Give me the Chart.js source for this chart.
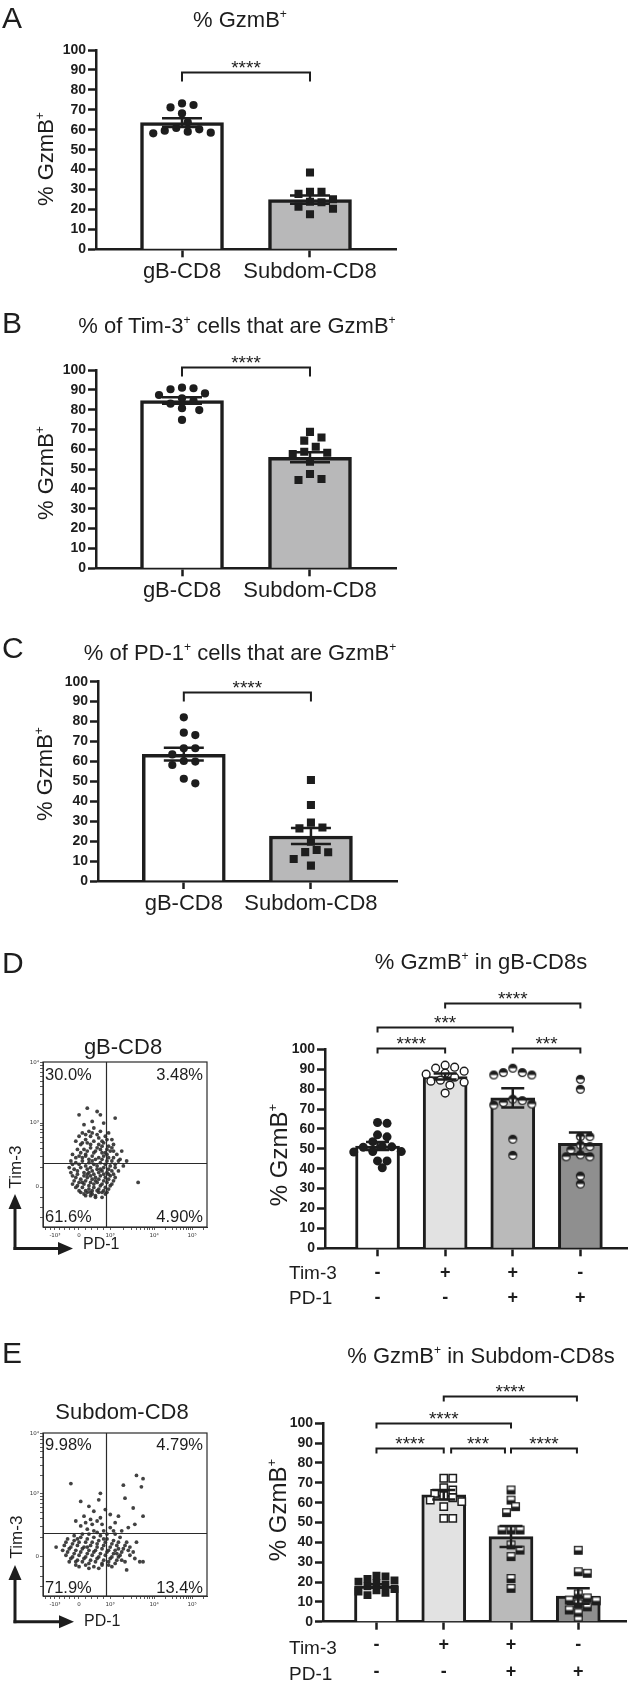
<!DOCTYPE html>
<html>
<head>
<meta charset="utf-8">
<script src="https://cdn.jsdelivr.net/npm/chart.js@4.4.1/dist/chart.umd.min.js"></script>
<style>
  html, body { margin: 0; padding: 0; background: #fff; }
  body { position: relative; width: 633px; height: 1688px; overflow: hidden;
         font-family: "Liberation Sans", Arial, Helvetica, sans-serif; color: #1d1d1d; }
  canvas { position: absolute; }
  .t { position: absolute; white-space: nowrap; line-height: 1; }
  .c { transform: translateX(-50%); }
  .rot { position: absolute; white-space: nowrap; line-height: 1; transform: translate(-50%, -50%) rotate(-90deg); }
  .sp { font-size: 0.55em; position: relative; top: -0.75em; }
  .L { font-size: 30px; left: 2px; }
  .T { font-size: 22px; }
  .Q { font-size: 16.5px; }
</style>
</head>
<body>
<canvas id="cA" width="420" height="300" style="left:0;top:0"></canvas>
<canvas id="cB" width="420" height="310" style="left:0;top:300px"></canvas>
<canvas id="cC" width="420" height="300" style="left:0;top:620px"></canvas>
<canvas id="cD" width="383" height="350" style="left:250px;top:970px"></canvas>
<canvas id="cE" width="383" height="318" style="left:250px;top:1370px"></canvas>
<canvas id="fD" width="240" height="230" style="left:0;top:1030px"></canvas>
<canvas id="fE" width="240" height="230" style="left:0;top:1400px"></canvas>

<svg width="633" height="1688" style="position:absolute;left:0;top:0;pointer-events:none">
  <g stroke="#1d1d1d" stroke-width="3" fill="none">
    <path d="M15 1250 V1206"/><path d="M13.5 1248.5 H60"/>
    <path d="M15 1623.2 V1577"/><path d="M13.5 1621.7 H61"/>
  </g>
  <g fill="#1d1d1d">
    <polygon points="15,1194 8.5,1209 21.5,1209"/>
    <polygon points="73,1248.5 58,1242 58,1255"/>
    <polygon points="15,1565 8.5,1580 21.5,1580"/>
    <polygon points="74,1621.7 59,1615.2 59,1628.2"/>
  </g>
</svg>

<!-- panel letters -->
<div class="t L" style="top:2.6px">A</div>
<div class="t L" style="top:307.9px">B</div>
<div class="t L" style="top:632.9px">C</div>
<div class="t L" style="top:947.9px">D</div>
<div class="t L" style="top:1337.9px">E</div>

<!-- chart titles -->
<div class="t T c" style="left:240px;top:8.7px">% GzmB<span class="sp">+</span></div>
<div class="t T c" style="left:237px;top:314.7px">% of Tim-3<span class="sp">+</span> cells that are GzmB<span class="sp">+</span></div>
<div class="t T c" style="left:240px;top:642.1px">% of PD-1<span class="sp">+</span> cells that are GzmB<span class="sp">+</span></div>
<div class="t T c" style="left:481px;top:951.4px">% GzmB<span class="sp">+</span> in gB-CD8s</div>
<div class="t T c" style="left:481px;top:1344.7px">% GzmB<span class="sp">+</span> in Subdom-CD8s</div>

<!-- y axis titles -->
<div class="rot" style="left:46px;top:159px;font-size:22px">% GzmB<span class="sp">+</span></div>
<div class="rot" style="left:46px;top:473px;font-size:22px">% GzmB<span class="sp">+</span></div>
<div class="rot" style="left:45px;top:774px;font-size:22px">% GzmB<span class="sp">+</span></div>
<div class="rot" style="left:279px;top:1155px;font-size:24px">% GzmB<span class="sp">+</span></div>
<div class="rot" style="left:278px;top:1510px;font-size:24px">% GzmB<span class="sp">+</span></div>

<!-- flow plot texts -->
<div class="t T c" style="left:123px;top:1036.4px">gB-CD8</div>
<div class="t T c" style="left:122px;top:1401.4px">Subdom-CD8</div>
<div class="t Q" style="left:45px;top:1066px">30.0%</div>
<div class="t Q" style="right:430px;top:1066px">3.48%</div>
<div class="t Q" style="left:45px;top:1207.7px">61.6%</div>
<div class="t Q" style="right:430px;top:1207.7px">4.90%</div>
<div class="t Q" style="left:45px;top:1436px">9.98%</div>
<div class="t Q" style="right:430px;top:1436px">4.79%</div>
<div class="t Q" style="left:45px;top:1578.7px">71.9%</div>
<div class="t Q" style="right:430px;top:1578.7px">13.4%</div>
<div class="rot" style="left:15px;top:1167px;font-size:17px">Tim-3</div>
<div class="rot" style="left:16px;top:1537px;font-size:17px">Tim-3</div>
<div class="t" style="left:83px;top:1236px;font-size:16px">PD-1</div>
<div class="t" style="left:84px;top:1613px;font-size:16px">PD-1</div>

<!-- row headers under D/E -->
<div class="t" style="left:289px;top:1262.7px;font-size:19px">Tim-3</div>
<div class="t" style="left:289px;top:1287.7px;font-size:19px">PD-1</div>
<div class="t" style="left:289px;top:1637.7px;font-size:19px">Tim-3</div>
<div class="t" style="left:289px;top:1663.7px;font-size:19px">PD-1</div>

<script>
// ================= DATA =================
const catAC = ['gB-CD8', 'Subdom-CD8'];

const gbA   = [72.4, 71.2, 73.2, 68.2, 63.7, 60.2, 59.5, 59.0, 60.9, 58.5, 58.2];
const subA  = [38.5, 28.9, 28.9, 27.8, 23.9, 23.6, 21.4, 20.3, 17.6, 25.1];
const meanA = [63.6, 24.9];
const semA  = [2.2, 2.1];
const brFromA = [0], brToA = [1], brYA = [89.1], brTxtA = ['****'];

const gbB   = [84.4, 90.8, 90.3, 91.1, 88.2, 87.4, 80.7, 83.0, 85.7, 79.8, 74.8];
const subB  = [68.8, 66.0, 64.4, 61.3, 58.3, 58.8, 57.6, 53.8, 47.6, 45.0, 44.5];
const meanB = [84.6, 56.0];
const semB  = [1.6, 2.5];
const brFromB = [0], brToB = [1], brYB = [101.4], brTxtB = ['****'];

const gbC   = [82.1, 74.4, 73.2, 66.6, 66.6, 59.9, 60.2, 58.2, 63.5, 51.3, 49.0];
const subC  = [50.7, 38.1, 29.3, 26.8, 26.4, 15.6, 14.5, 11.0, 14.4, 7.7, 19.7];
const meanC = [63.6, 22.6];
const semC  = [3.2, 4.0];
const brFromC = [0], brToC = [1], brYC = [94.7], brTxtC = ['****'];

const timSign = ['-', '+', '+', '-'];
const pdSign  = ['-', '-', '+', '+'];

const d1 = [63.2, 62.8, 57.0, 56.0, 53.6, 51.2, 51.0, 50.8, 48.6, 48.6, 48.4, 43.9, 43.9, 40.5];
const d2 = [92.0, 91.0, 90.5, 89.0, 88.0, 87.5, 86.0, 84.5, 84.0, 83.5, 82.0, 78.0];
const d3 = [90.5, 88.3, 88.3, 87.1, 87.1, 74.9, 74.2, 73.2, 72.0, 72.5, 54.8, 46.7];
const d4 = [84.9, 79.9, 56.1, 56.1, 51.9, 51.1, 49.4, 47.0, 46.0, 46.0, 36.3, 32.3];
const meanD = [51.4, 86.3, 75.6, 52.7];
const semD  = [2.0, 1.5, 4.8, 5.5];
const brFromD = [0, 2, 0, 1], brToD = [1, 3, 2, 3], brYD = [100.5, 100.5, 111.4, 123.4];
const brTxtD = ['****', '***', '***', '****'];

const e1 = [23.2, 22.8, 21.5, 20.8, 20.2, 19.5, 18.6, 17.8, 16.5, 15.8, 15.2, 14.6, 13.4];
const e2 = [72.3, 72.3, 67.5, 66.4, 64.7, 63.5, 62.5, 61.3, 60.5, 58.0, 52.1, 52.1];
const e3 = [66.4, 61.3, 58.0, 55.0, 46.2, 46.2, 46.2, 38.7, 36.1, 32.8, 21.8, 16.8];
const e4 = [36.0, 25.2, 24.4, 14.0, 12.0, 10.9, 10.5, 9.0, 7.5, 5.9, 4.5, 0.8];
const meanE = [18.0, 64.0, 42.9, 12.9];
const semE  = [0.9, 2.4, 5.3, 3.9];
const brFromE = [0, 1.11, 2, 0, 1], brToE = [1, 1.91, 2.98, 2, 2.98], brYE = [87.7, 87.7, 87.7, 100.3, 113.9];
const brTxtE = ['****', '***', '****', '****', '****'];

// flow cytometry events (display units 0-100 on each axis)
const flowD = [
 [27,72],[33,70],[35,68],[22,68],[44,66],[30,64],[25,62],[37,63],[31,60],[28,58],[35,58],[40,57],[24,57],[33,56],[38,55],[29,55],[42,53],[26,53],
 [20,52],[23,50],[27,51],[31,52],[34,50],[37,51],[40,49],[43,50],[21,47],[25,47],[29,48],[32,46],[35,47],[38,45],[41,46],[45,44],[18,44],[22,43],[26,44],[30,43],[34,42],[37,43],[40,42],[47,41],[43,42],
 [17,40],[20,39],[24,40],[28,39],[31,38],[35,39],[38,38],[41,37],[44,38],[49,37],[16,36],[19,35],[23,36],[27,35],[30,34],[33,35],[36,34],[39,33],[42,34],[46,34],[18,31],[21,32],[25,31],[29,31],[32,30],[35,31],[38,30],[41,31],[44,30],
 [19,28],[22,27],[26,28],[29,27],[33,27],[36,26],[39,27],[42,26],[20,24],[24,24],[28,23],[31,24],[34,23],[37,22],[40,23],[23,21],[27,21],[30,20],[34,21],[38,20],[26,19],[32,19],
 [58,27],[51,40],[48,46],
 [22,55],[26,56],[30,57],[34,54],[36,52],[39,53],[24,51],[29,50],[33,48],[36,49],[39,47],[42,48],[23,45],[27,46],[31,45],[36,45],[39,44],[43,46],[20,42],[24,42],[28,41],[32,41],[36,41],[39,40],[42,40],[46,40],
 [18,38],[22,38],[26,37],[29,36],[33,37],[37,36],[40,35],[44,36],[17,33],[21,34],[25,33],[28,33],[31,32],[34,33],[37,32],[40,32],[43,32],[20,30],[23,29],[27,30],[30,29],[34,29],[37,28],[40,29],[43,28],
 [18,26],[21,25],[25,26],[28,25],[31,26],[35,25],[38,24],[41,25],[22,22],[26,22],[29,21],[33,22],[36,21],[39,21],[25,20],[29,19],[32,18],[36,18],[30,22],[24,27],[32,28],[27,32],[35,35],[30,40],[26,43]
];
const flowE = [
 [17,69],[49,68],[57,74],[61,72],[60,67],[23,58],[34,59],[35,63],[50,60],[55,54],[61,49],[46,49],[28,55],[31,52],[38,53],[41,50],[25,49],[20,46],[29,47],[33,46],[36,44],[44,45],[52,42],[41,42],[23,43],[27,41],[31,40],[48,40],[56,44],
 [15,35],[19,34],[23,36],[27,35],[31,36],[35,37],[39,35],[43,34],[47,36],[51,33],[13,31],[17,30],[21,31],[25,30],[29,31],[33,30],[37,31],[41,30],[45,31],[49,29],[53,30],
 [15,27],[19,26],[23,27],[27,26],[31,27],[35,26],[39,27],[43,26],[47,25],[55,27],[17,23],[21,22],[25,23],[29,22],[33,23],[37,22],[41,23],[45,22],[50,21],[59,21],[61,21],
 [20,19],[26,19],[31,18],[36,19],[42,18],[51,16],[8,30],[57,33],[44,38],[37,40],
 [14,33],[18,32],[22,33],[26,33],[30,33],[34,34],[38,33],[42,32],[46,33],[16,29],[20,28],[24,29],[28,28],[32,28],[36,29],[40,28],[44,28],[48,27],[52,28],
 [14,25],[18,24],[22,25],[26,24],[30,25],[34,24],[38,25],[42,24],[46,24],[16,21],[20,21],[24,21],[28,20],[32,21],[36,20],[40,21],[44,20],[48,22],[22,18],[28,17],[34,17],
 [24,38],[28,38],[33,39],[39,38],[43,40],[26,45],[35,48],[30,44],[46,29],[53,25],[56,23],[50,31],[19,37],[12,28],[40,19],[45,26],[33,32],[27,30],[21,35],[37,35]
];
const quadD = [38.4, 38.8];
const quadE = [38.4, 38.7];
const flowXMajor = [7.3, 21.9, 40.9, 67.7, 90.9];
const flowXLabels = ['-10³', '0', '10³', '10⁴', '10⁵'];
const flowYMajor = [24.2, 63.0, 99.4];
const flowYLabels = ['0', '10³', '10⁴'];

// ================= RENDERING =================
const INK = '#1d1d1d';
const SANS = '"Liberation Sans", Arial, Helvetica, sans-serif';

// dot-plot layout: spread points sideways where they would overlap
function swarm(chart, groups, spacing) {
  const xs = chart.scales.x, ys = chart.scales.y;
  const ppu = xs.getPixelForValue(1) - xs.getPixelForValue(0);
  const sy = spacing * 0.8;
  return groups.map((vals, gi) => {
    const placed = [];
    const order = vals.map((v, i) => i).sort((a, b) => vals[b] - vals[a]);
    const out = new Array(vals.length);
    order.forEach(i => {
      const py = ys.getPixelForValue(vals[i]);
      for (let k = 0; k < 200; k++) {
        const off = k === 0 ? 0 : (k % 2 ? 1 : -1) * Math.ceil(k / 2) * spacing / 2;
        const ok = placed.every(p => {
          const ex = (p.dx - off) / spacing, ey = (p.py - py) / sy;
          return ex * ex + ey * ey >= 1;
        });
        if (ok) {
          placed.push({dx: off, py});
          out[i] = {x: gi + off / ppu, y: vals[i]};
          break;
        }
      }
    });
    return out;
  });
}

function halfCircle(r, topBlack) {
  const s = Math.ceil(2 * r + 3);
  const c = document.createElement('canvas'); c.width = c.height = s;
  const g = c.getContext('2d'); const m = s / 2;
  g.fillStyle = '#fff'; g.beginPath(); g.arc(m, m, r, 0, 2 * Math.PI); g.fill();
  g.fillStyle = INK; g.beginPath();
  if (topBlack) g.arc(m, m, r, Math.PI, 2 * Math.PI); else g.arc(m, m, r, 0, Math.PI);
  g.closePath(); g.fill();
  g.lineWidth = 1.3; g.strokeStyle = INK; g.beginPath(); g.arc(m, m, r, 0, 2 * Math.PI); g.stroke();
  return c;
}
function halfSquare(a, bottomBlack) {
  const s = Math.ceil(a + 3);
  const c = document.createElement('canvas'); c.width = c.height = s;
  const g = c.getContext('2d'); const o = (s - a) / 2;
  g.fillStyle = '#fff'; g.fillRect(o, o, a, a);
  g.fillStyle = INK;
  if (bottomBlack) g.fillRect(o, o + a / 2, a, a / 2); else g.fillRect(o, o, a, a / 2);
  g.lineWidth = 1.3; g.strokeStyle = INK; g.strokeRect(o, o, a, a);
  return c;
}

function barChart(id, o) {
  const cv = document.getElementById(id);
  const W = cv.width, H = cv.height;
  const datasets = [{
    type: 'bar', order: 2,
    data: o.means.map((m, i) => ({x: i, y: m})),
    backgroundColor: o.fills, borderColor: INK, borderWidth: o.barBorder,
    barThickness: o.barW, borderSkipped: 'start'
  }];
  o.groups.forEach((g, i) => datasets.push({
    type: 'scatter', order: 1,
    data: g.map(v => ({x: i, y: v})),
    pointStyle: o.mk[i].style, pointRadius: o.mk[i].r, pointHoverRadius: o.mk[i].r,
    backgroundColor: o.mk[i].fill, borderColor: INK, borderWidth: o.mk[i].bw
  }));
  const grid = {display: true, drawOnChartArea: false, drawTicks: true, tickLength: 8,
                tickWidth: o.axW, tickColor: INK, color: INK, offset: false};
  const overlay = {
    id: 'overlay',
    afterDatasetsDraw(chart) {
      const ctx = chart.ctx, xs = chart.scales.x, ys = chart.scales.y;
      ctx.save();
      ctx.strokeStyle = INK; ctx.lineWidth = o.ebW;
      o.means.forEach((m, i) => {
        const x = xs.getPixelForValue(i);
        const yt = ys.getPixelForValue(m + o.sems[i]);
        const yb = ys.getPixelForValue(m - o.sems[i]);
        ctx.beginPath();
        ctx.moveTo(x, yt); ctx.lineTo(x, yb);
        ctx.moveTo(x - o.cap / 2, yt); ctx.lineTo(x + o.cap / 2, yt);
        ctx.moveTo(x - o.cap / 2, yb); ctx.lineTo(x + o.cap / 2, yb);
        ctx.stroke();
      });
      ctx.lineWidth = o.brW;
      ctx.fillStyle = INK; ctx.font = '19px ' + SANS;
      ctx.textAlign = 'center'; ctx.textBaseline = 'alphabetic';
      o.br.from.forEach((f, k) => {
        const x1 = xs.getPixelForValue(f), x2 = xs.getPixelForValue(o.br.to[k]);
        const y = Math.round(ys.getPixelForValue(o.br.y[k])) + 0.5;
        ctx.beginPath();
        ctx.moveTo(x1, y + o.drop); ctx.lineTo(x1, y); ctx.lineTo(x2, y); ctx.lineTo(x2, y + o.drop);
        ctx.stroke();
        ctx.fillText(o.br.txt[k], (x1 + x2) / 2, y + 1.5);
      });
      ctx.restore();
    }
  };
  const chart = new Chart(cv, {
    type: 'bar',
    data: {datasets},
    options: {
      responsive: false, animation: false, devicePixelRatio: 1, events: [],
      layout: {padding: {left: 0, top: o.ca.top, right: W - o.ca.right, bottom: 0}},
      plugins: {legend: {display: false}, tooltip: {enabled: false}},
      scales: {
        x: {type: 'linear', min: o.xr[0], max: o.xr[1], offset: false,
            afterBuildTicks: s => { s.ticks = o.means.map((m, i) => ({value: i})); },
            afterFit: s => { s.height = H - o.ca.bottom; },
            ticks: {autoSkip: false, maxRotation: 0, minRotation: 0, padding: o.xpad, color: INK,
                    font: o.xfont, callback: v => o.xlab[v]},
            grid: grid, border: {display: true, color: INK, width: o.axW}},
        y: {type: 'linear', min: 0, max: 100,
            afterFit: s => { s.width = o.ca.left; },
            ticks: {stepSize: 10, autoSkip: false, padding: 2, color: INK,
                    font: {family: SANS, size: 14, weight: 'bold'}},
            grid: grid, border: {display: true, color: INK, width: o.axW}}
      }
    },
    plugins: [overlay]
  });
  const pts = swarm(chart, o.groups, o.spacing);
  pts.forEach((p, i) => { chart.data.datasets[i + 1].data = p; });
  chart.update('none');
  return chart;
}

const mkCircle = {style: 'circle', r: 4.1, fill: INK, bw: 0};
const mkSquare = {style: 'rect', r: 5.7, fill: INK, bw: 0};
const xfontAC = {family: SANS, size: 22};

barChart('cA', {
  ca: {left: 96, right: 396, top: 50, bottom: 249.3}, xr: [-0.672, 1.672],
  means: meanA, sems: semA, groups: [gbA, subA], xlab: catAC, xfont: xfontAC, xpad: 1,
  fills: ['#ffffff', '#b8b8b9'], barW: 83, barBorder: 3.5, axW: 2.5, ebW: 2.5, cap: 40,
  mk: [mkCircle, mkSquare], spacing: 11.5,
  br: {from: brFromA, to: brToA, y: brYA, txt: brTxtA}, drop: 9, brW: 2
});
barChart('cB', {
  ca: {left: 96, right: 396, top: 70, bottom: 268.3}, xr: [-0.672, 1.672],
  means: meanB, sems: semB, groups: [gbB, subB], xlab: catAC, xfont: xfontAC, xpad: 1.5,
  fills: ['#ffffff', '#b8b8b9'], barW: 83, barBorder: 3.5, axW: 2.5, ebW: 2.5, cap: 40,
  mk: [mkCircle, mkSquare], spacing: 11.5,
  br: {from: brFromB, to: brToB, y: brYB, txt: brTxtB}, drop: 9, brW: 2
});
barChart('cC', {
  ca: {left: 98, right: 397, top: 61.7, bottom: 261}, xr: [-0.675, 1.677],
  means: meanC, sems: semC, groups: [gbC, subC], xlab: catAC, xfont: xfontAC, xpad: 1.8,
  fills: ['#ffffff', '#b8b8b9'], barW: 83, barBorder: 3.5, axW: 2.5, ebW: 2.5, cap: 40,
  mk: [mkCircle, mkSquare], spacing: 11.5,
  br: {from: brFromC, to: brToC, y: brYC, txt: brTxtC}, drop: 9, brW: 2
});

const signLab = timSign.map((t, i) => [t, pdSign[i]]);
barChart('cD', {
  ca: {left: 75, right: 382, top: 79.3, bottom: 278.3}, xr: [-0.777, 3.70],
  means: meanD, sems: semD, groups: [d1, d2, d3, d4], xlab: signLab,
  xfont: {family: SANS, size: 18, weight: 'bold', lineHeight: '25px'}, xpad: 4.2,
  fills: ['#ffffff', '#e2e2e2', '#bababa', '#8f8f8f'], barW: 44, barBorder: 3, axW: 2.5, ebW: 2.5, cap: 23,
  mk: [{style: 'circle', r: 4.5, fill: INK, bw: 0},
       {style: 'circle', r: 3.9, fill: '#ffffff', bw: 1.4},
       {style: halfCircle(3.9, true), r: 4.5, fill: INK, bw: 0},
       {style: halfCircle(3.9, true), r: 4.5, fill: INK, bw: 0}], spacing: 9.5,
  br: {from: brFromD, to: brToD, y: brYD, txt: brTxtD}, drop: 5, brW: 2
});
barChart('cE', {
  ca: {left: 73, right: 382, top: 53.3, bottom: 251.7}, xr: [-0.795, 3.714],
  means: meanE, sems: semE, groups: [e1, e2, e3, e4], xlab: signLab,
  xfont: {family: SANS, size: 18, weight: 'bold', lineHeight: '27px'}, xpad: 1.8,
  fills: ['#ffffff', '#e2e2e2', '#bababa', '#8f8f8f'], barW: 44, barBorder: 3, axW: 2.5, ebW: 2.5, cap: 23,
  mk: [{style: 'rect', r: 5.6, fill: INK, bw: 0},
       {style: 'rect', r: 5.2, fill: '#ffffff', bw: 1.5},
       {style: halfSquare(7.6, true), r: 4.5, fill: INK, bw: 0},
       {style: halfSquare(7.6, true), r: 4.5, fill: INK, bw: 0}], spacing: 9,
  br: {from: brFromE, to: brToE, y: brYE, txt: brTxtE}, drop: 5, brW: 2
});

// ---- flow plots ----
function linMinors(a, b, n) { const r = []; for (let k = 1; k < n; k++) r.push(a + (b - a) * k / n); return r; }
function logMinors(a, b) { const r = []; for (let k = 2; k < 10; k++) r.push(a + (b - a) * Math.log10(k)); return r; }
const xm = flowXMajor;
const flowXTicks = [].concat(xm, linMinors(xm[0], xm[1], 5), linMinors(xm[1], xm[2], 5),
  logMinors(xm[2], xm[3]), logMinors(xm[3], xm[4]), logMinors(xm[4], xm[4] + (xm[4] - xm[3])),
  linMinors(xm[0] - (xm[1] - xm[0]), xm[0], 5)).filter(v => v >= 0 && v <= 100);
const ym = flowYMajor;
const flowYTicks = [].concat(ym, linMinors(0, ym[0], 4), logMinors(ym[0], ym[1]), logMinors(ym[1], ym[2]))
  .filter(v => v >= 0 && v <= 100);

function labelAt(v, majors, labels) {
  const i = majors.findIndex(m => Math.abs(m - v) < 1e-6);
  return i >= 0 ? labels[i] : '';
}

function flowChart(id, pts, q, ca) {
  const cv = document.getElementById(id); const W = cv.width, H = cv.height;
  const g = {display: true, drawOnChartArea: false, drawTicks: true, tickLength: 3,
             tickWidth: 0.8, tickColor: '#333', color: '#333'};
  const tf = {family: '"DejaVu Sans", sans-serif', size: 5.5};
  const box = {
    id: 'box',
    afterDatasetsDraw(chart) {
      const {ctx, chartArea: a, scales: {x, y}} = chart;
      ctx.save();
      ctx.strokeStyle = '#2a2a2a'; ctx.lineWidth = 1.2;
      ctx.strokeRect(a.left, a.top, a.right - a.left, a.bottom - a.top);
      const px = Math.round(x.getPixelForValue(q[0])) + 0.5, py = Math.round(y.getPixelForValue(q[1])) + 0.5;
      ctx.beginPath();
      ctx.moveTo(px, a.top); ctx.lineTo(px, a.bottom);
      ctx.moveTo(a.left, py); ctx.lineTo(a.right, py);
      ctx.stroke();
      ctx.restore();
    }
  };
  new Chart(cv, {
    type: 'scatter',
    data: {datasets: [{data: pts.map(p => ({x: p[0], y: p[1]})), pointRadius: 1.9,
                       backgroundColor: 'rgba(45,45,45,0.9)', borderWidth: 0}]},
    options: {
      responsive: false, animation: false, devicePixelRatio: 1, events: [],
      layout: {padding: {left: 0, top: ca.top, right: W - ca.right, bottom: 0}},
      plugins: {legend: {display: false}, tooltip: {enabled: false}},
      scales: {
        x: {type: 'linear', min: 0, max: 100,
            afterBuildTicks: s => { s.ticks = flowXTicks.map(v => ({value: v})); },
            afterFit: s => { s.height = H - ca.bottom; },
            ticks: {autoSkip: false, maxRotation: 0, minRotation: 0, padding: 2, color: '#333', font: tf,
                    callback: v => labelAt(v, flowXMajor, flowXLabels)},
            grid: g, border: {display: true, color: '#333', width: 1}},
        y: {type: 'linear', min: 0, max: 100,
            afterBuildTicks: s => { s.ticks = flowYTicks.map(v => ({value: v})); },
            afterFit: s => { s.width = ca.left; },
            ticks: {autoSkip: false, padding: 1, color: '#333', font: tf,
                    callback: v => labelAt(v, flowYMajor, flowYLabels)},
            grid: g, border: {display: true, color: '#333', width: 1}}
      }
    },
    plugins: [box]
  });
}
flowChart('fD', flowD, quadD, {left: 43, right: 207, top: 32, bottom: 197});
flowChart('fE', flowE, quadE, {left: 43, right: 207, top: 33, bottom: 196});
</script>
</body>
</html>
